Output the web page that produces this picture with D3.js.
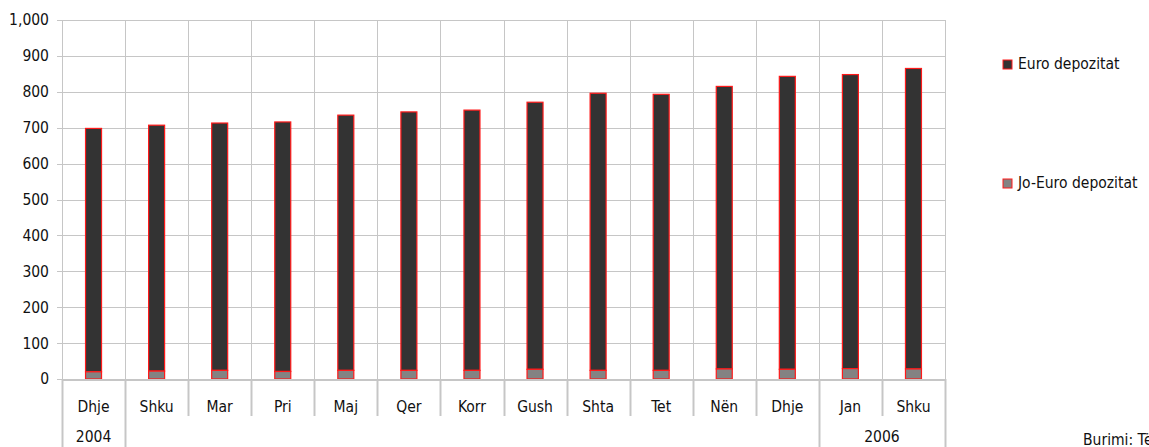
<!DOCTYPE html>
<html>
<head>
<meta charset="utf-8">
<script src="https://cdn.jsdelivr.net/npm/d3@7"></script>
<style>
  body { margin: 0; background: #fff; }
  svg text { font-family: "DejaVu Sans Condensed", "DejaVu Sans", sans-serif; font-stretch: condensed; fill: #111; font-size: 15.5px; }
</style>
</head>
<body>
<div id="chart"></div>
<script>
var months = ['Dhje', 'Shku', 'Mar', 'Pri', 'Maj', 'Qer', 'Korr', 'Gush', 'Shta', 'Tet', 'Nën', 'Dhje', 'Jan', 'Shku'];
var years = [{label: '2004', from: 0, to: 1}, {label: '', from: 1, to: 12}, {label: '2006', from: 12, to: 14}];
var joEuro = [20, 22, 24, 21, 24, 24, 24, 27, 24, 24, 28, 27, 29, 28];
var euro = [678, 685, 689, 695, 711, 720, 725, 744, 772, 769, 787, 816, 819, 837];
var yTicks = [0, 100, 200, 300, 400, 500, 600, 700, 800, 900, 1000];

var width = 1149, height = 447;
var plotL = 62, plotR = 945, plotT = 20, plotB = 379;

var svg = d3.select('#chart').append('svg')
  .attr('width', width)
  .attr('height', height);

var x = d3.scaleBand()
  .domain(d3.range(months.length))
  .range([plotL, plotR]);

var y = d3.scaleLinear()
  .domain([0, 1000])
  .range([plotB, plotT]);

var fmt = d3.format(',');
var edge = function(i) { return Math.round(plotL + i * x.bandwidth()) + 0.5; };

// horizontal grid
svg.append('g').selectAll('line')
  .data(yTicks)
  .enter().append('line')
  .attr('x1', plotL - 5).attr('x2', plotR)
  .attr('y1', function(d) { return Math.round(y(d)) + 0.5; })
  .attr('y2', function(d) { return Math.round(y(d)) + 0.5; })
  .attr('stroke', '#c6c6c6');

// vertical grid
svg.append('g').selectAll('line')
  .data(d3.range(months.length + 1))
  .enter().append('line')
  .attr('x1', edge).attr('x2', edge)
  .attr('y1', plotT).attr('y2', plotB)
  .attr('stroke', '#c6c6c6');

// y labels
svg.append('g').selectAll('text')
  .data(yTicks)
  .enter().append('text')
  .attr('x', plotL - 13)
  .attr('y', function(d) { return y(d); })
  .attr('dy', '0.35em')
  .attr('text-anchor', 'end')
  .text(function(d) { return fmt(d); });

// bars
var barW = 16;
var stacks = months.map(function(m, i) {
  return {i: i, jo: joEuro[i], eu: euro[i]};
});
var g = svg.append('g').selectAll('g')
  .data(stacks)
  .enter().append('g');

g.append('rect')
  .attr('x', function(d) { return x(d.i) + x.bandwidth() / 2 - barW / 2; })
  .attr('y', function(d) { return y(d.jo + d.eu); })
  .attr('width', barW)
  .attr('height', function(d) { return y(d.jo) - y(d.jo + d.eu); })
  .attr('fill', '#333333')
  .attr('stroke', '#ff1a1a')
  .attr('stroke-width', 1.2);

g.append('rect')
  .attr('x', function(d) { return x(d.i) + x.bandwidth() / 2 - barW / 2; })
  .attr('y', function(d) { return y(d.jo); })
  .attr('width', barW)
  .attr('height', function(d) { return y(0) - y(d.jo); })
  .attr('fill', '#838383')
  .attr('stroke', '#ff1a1a')
  .attr('stroke-width', 1.2);

// category axis
svg.append('line')
  .attr('x1', plotL).attr('x2', plotR)
  .attr('y1', plotB + 1).attr('y2', plotB + 1)
  .attr('stroke', '#c6c6c6').attr('stroke-width', 2);

var yearBounds = [0, 1, 12, 14];
svg.append('g').selectAll('line')
  .data(d3.range(months.length + 1))
  .enter().append('line')
  .attr('x1', edge).attr('x2', edge)
  .attr('y1', plotB)
  .attr('y2', function(i) { return yearBounds.indexOf(i) >= 0 ? height : 416; })
  .attr('stroke', '#c6c6c6').attr('stroke-width', 2);

svg.append('g').selectAll('text')
  .data(months)
  .enter().append('text')
  .attr('x', function(d, i) { return x(i) + x.bandwidth() / 2; })
  .attr('y', 407)
  .attr('dy', '0.35em')
  .attr('text-anchor', 'middle')
  .text(function(d) { return d; });

svg.append('g').selectAll('text')
  .data(years)
  .enter().append('text')
  .attr('x', function(d) { return (x(d.from) + plotL + d.to * x.bandwidth()) / 2; })
  .attr('y', 437)
  .attr('dy', '0.35em')
  .attr('text-anchor', 'middle')
  .text(function(d) { return d.label; });

// legend
var legend = [{name: 'Euro depozitat', color: '#333333', y: 64}, {name: 'Jo-Euro depozitat', color: '#838383', y: 183}];
var lg = svg.append('g').selectAll('g')
  .data(legend)
  .enter().append('g');
lg.append('rect')
  .attr('x', 1003).attr('y', function(d) { return d.y - 4; })
  .attr('width', 9).attr('height', 9)
  .attr('fill', function(d) { return d.color; })
  .attr('stroke', '#ff1a1a');
lg.append('text')
  .attr('x', 1018).attr('y', function(d) { return d.y; })
  .attr('dy', '0.35em')
  .text(function(d) { return d.name; });

svg.append('text')
  .attr('x', 1083).attr('y', 440)
  .attr('dy', '0.35em')
  .text('Burimi: Të dhënat');
</script>
</body>
</html>
